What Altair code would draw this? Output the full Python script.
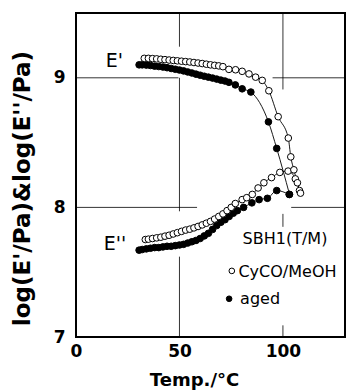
import altair as alt
import pandas as pd

# ---- data ----
# E' , CyCO/MeOH (open circles)
ep_open_T = [33, 35, 37, 39, 41, 43, 45, 47, 49, 51, 53, 55, 57, 59, 61, 63, 65, 67, 69, 71,
             73.9, 77.1, 80.3, 83.6, 86.8, 90, 93.2, 97.7, 102.6, 103.8, 105.3, 107, 108.5]
ep_open_v = [9.15, 9.15, 9.148, 9.146, 9.143, 9.14, 9.137, 9.134, 9.131, 9.128, 9.125, 9.122,
             9.118, 9.114, 9.11, 9.105, 9.10, 9.096, 9.092, 9.086,
             9.065, 9.062, 9.05, 9.03, 9.005, 8.98, 8.90, 8.70, 8.535, 8.39, 8.29, 8.19, 8.11]
# E' , aged (filled circles)
ep_aged_T = [30.5, 32, 34, 36, 38, 40, 42, 44, 46, 48, 50, 52, 54, 56, 58, 60, 62, 64, 66, 68,
             70, 72, 73.9, 77, 80.3, 84.5, 93, 97, 103.2]
ep_aged_v = [9.10, 9.10, 9.098, 9.095, 9.09, 9.087, 9.083, 9.078, 9.072, 9.066, 9.06, 9.053,
             9.045, 9.037, 9.028, 9.02, 9.012, 9.005, 8.998, 8.99, 8.982, 8.975, 8.965, 8.945,
             8.915, 8.89, 8.66, 8.455, 8.10]
# E'' , CyCO/MeOH (open circles)
epp_open_T = [33.5, 35, 37, 39, 41, 43, 45, 47, 49, 51, 53, 55, 57, 59, 61, 63, 65, 67, 69, 71,
              73, 75, 77, 80.3, 82.5, 85.2, 88, 90.8, 94.5, 98.5, 102.5, 106, 108]
epp_open_v = [7.752, 7.755, 7.76, 7.765, 7.77, 7.778, 7.785, 7.795, 7.805, 7.815, 7.825, 7.832,
              7.842, 7.853, 7.865, 7.878, 7.892, 7.91, 7.93, 7.95, 7.975, 8.00, 8.03, 8.06,
              8.075, 8.10, 8.15, 8.19, 8.23, 8.27, 8.28, 8.22, 8.13]
# E'' , aged (filled circles)
epp_aged_T = [30.5, 32, 34, 36, 38, 40, 42, 44, 46, 48, 50, 52, 54, 56, 58, 60, 62, 64, 66, 68,
              70, 72, 74, 76, 78, 81, 85, 88.5, 92.5, 97, 103]
epp_aged_v = [7.67, 7.675, 7.68, 7.685, 7.69, 7.69, 7.695, 7.70, 7.70, 7.705, 7.71, 7.715, 7.725,
              7.735, 7.745, 7.76, 7.78, 7.80, 7.83, 7.86, 7.885, 7.905, 7.93, 7.955, 7.975,
              8.00, 8.035, 8.06, 8.07, 8.13, 8.10]

samples = ["CyCO/MeOH", "aged"]
x_ticks = [0, 50, 100]
y_ticks = [7, 8, 9]

# partial grid segments (data coordinates)
grid_x1 = [0, 95, 0, 104, 50, 50, 50, 100, 100, 100]
grid_x2 = [49.5, 130, 58.5, 130, 50, 50, 50, 100, 100, 100]
grid_y1 = [9, 9, 8, 8, 9.5, 9.0, 7.62, 9.5, 7.95, 7.09]
grid_y2 = [9, 9, 8, 8, 9.24, 7.97, 7.0, 8.91, 7.85, 7.0]

# annotations
mod_labels = ["E'", "E''"]
mod_x = [18.5, 18.8]
mod_y = [9.13, 7.72]
title_txt = ["SBH1(T/M)"]
title_x = [80.5]
title_y = [7.755]
leg_text = ["CyCO/MeOH", "aged"]
leg_text_x = [78.5, 79.3]
leg_text_y = [7.505, 7.295]
leg_sym_x = [75.3, 74.0]
leg_sym_y = [7.51, 7.295]

# ---- build tables ----
rows = []
for T, v in zip(epp_aged_T, epp_aged_v):
    rows.append(dict(T=T, v=v, sample="aged", grp="E2-aged"))
for T, v in zip(ep_aged_T, ep_aged_v):
    rows.append(dict(T=T, v=v, sample="aged", grp="E1-aged"))
for T, v in zip(epp_open_T, epp_open_v):
    rows.append(dict(T=T, v=v, sample="CyCO/MeOH", grp="E2-open"))
for T, v in zip(ep_open_T, ep_open_v):
    rows.append(dict(T=T, v=v, sample="CyCO/MeOH", grp="E1-open"))
df = pd.DataFrame(rows)
df["idx"] = range(len(df))

grid_df = pd.DataFrame(dict(x1=grid_x1, x2=grid_x2, y1=grid_y1, y2=grid_y2))
mod_df = pd.DataFrame(dict(x=mod_x, y=mod_y, t=mod_labels))
ttl_df = pd.DataFrame(dict(x=title_x, y=title_y, t=title_txt))
legt_df = pd.DataFrame(dict(x=leg_text_x, y=leg_text_y, t=leg_text))
legs_df = pd.DataFrame(dict(x=leg_sym_x, y=leg_sym_y, sample=samples))

FONT = "DejaVu Sans"
xs = alt.Scale(domain=[0, 130], nice=False, zero=False)
ys = alt.Scale(domain=[7, 9.5], nice=False, zero=False)
xax = alt.Axis(values=x_ticks, title="Temp./°C", grid=False, ticks=False, domain=False,
               labelFont=FONT, labelFontWeight="bold", labelFontSize=17, labelColor="black",
               labelPadding=6, labelBaseline="top", labelFlush=False,
               titleFont=FONT, titleFontWeight="bold", titleFontSize=18, titleColor="black",
               titleX=118, titleY=43, titleBaseline="middle", titleAlign="center")
yax = alt.Axis(values=y_ticks, title="log(E'/Pa)&log(E''/Pa)", grid=False, ticks=False,
               domain=False, labelFont=FONT, labelFontWeight="bold", labelFontSize=17,
               labelColor="black", labelPadding=11, labelFlush=False,
               titleFont=FONT, titleFontWeight="bold", titleFontSize=23, titleColor="black",
               titleX=-54, titleY=175, titleAngle=270, titleBaseline="middle",
               titleAlign="center")


def X(f):
    return alt.X(f, scale=xs, axis=xax)


def Y(f):
    return alt.Y(f, scale=ys, axis=yax)


fill_enc = alt.Fill("sample:N", scale=alt.Scale(domain=samples, range=["white", "black"]),
                    legend=None)

grid = alt.Chart(grid_df).mark_rule(color="black", strokeWidth=0.8).encode(
    x=X("x1:Q"), x2="x2:Q", y=Y("y1:Q"), y2="y2:Q")

lines = alt.Chart(df).mark_line(color="black", strokeWidth=0.9, interpolate="monotone").encode(
    x=X("T:Q"), y=Y("v:Q"), detail="grp:N", order="idx:Q")

points = alt.Chart(df).mark_point(shape="circle", filled=True, size=44, stroke="black",
                                  strokeWidth=1, opacity=1).encode(
    x=X("T:Q"), y=Y("v:Q"), fill=fill_enc, order="idx:Q")

mods = alt.Chart(mod_df).mark_text(font=FONT, fontSize=19, color="black", align="center",
                                   baseline="middle").encode(x=X("x:Q"), y=Y("y:Q"), text="t:N")

ttl = alt.Chart(ttl_df).mark_text(font=FONT, fontSize=16, color="black", align="left",
                                  baseline="middle").encode(x=X("x:Q"), y=Y("y:Q"), text="t:N")

legt = alt.Chart(legt_df).mark_text(font=FONT, fontSize=16, color="black", align="left",
                                    baseline="middle").encode(x=X("x:Q"), y=Y("y:Q"), text="t:N")

legs = alt.Chart(legs_df).mark_point(shape="circle", filled=True, size=32, stroke="black",
                                     strokeWidth=1, opacity=1).encode(
    x=X("x:Q"), y=Y("y:Q"), fill=fill_enc)

chart = alt.layer(grid, lines, points, mods, ttl, legt, legs).properties(
    width=269, height=324,
    autosize=alt.AutoSizeParams(type="none"),
    padding={"left": 76, "top": 13, "right": 1, "bottom": 54},
    background="white",
).configure_view(stroke="black", strokeWidth=2)

chart.save("out.html", embed_options={"renderer": "svg", "actions": False})
